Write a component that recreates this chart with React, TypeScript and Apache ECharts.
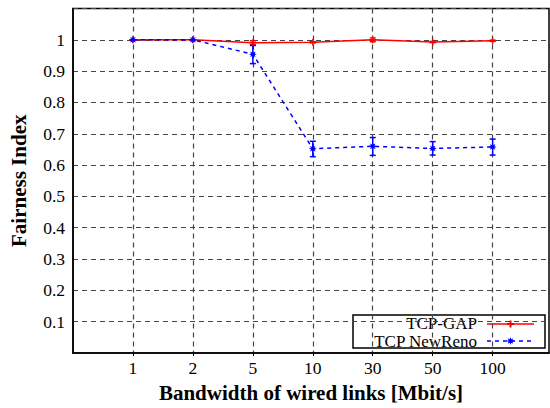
import React, { useEffect, useRef } from "react";
import * as echarts from "echarts";

const bandwidths = ["1", "2", "5", "10", "30", "50", "100"];
const gapMean = [1.0, 1.0, 0.991, 0.992, 1.0, 0.993, 0.997];
const gapLow = [1.0, 1.0, 0.985, 0.99, 0.994, 0.991, 0.995];
const gapHigh = [1.0, 1.0, 0.997, 0.994, 1.006, 0.995, 0.999];
const renoMean = [1.0, 1.0, 0.954, 0.652, 0.66, 0.653, 0.658];
const renoLow = [0.998, 0.998, 0.924, 0.627, 0.631, 0.632, 0.632];
const renoHigh = [1.0, 1.0, 0.982, 0.676, 0.688, 0.675, 0.683];
const seriesNames = ["TCP-GAP", "TCP NewReno"];

const RED = "#ff0000";
const BLUE = "#0000ff";
const FONT = "'Liberation Serif', 'DejaVu Serif', serif";

function starPoints(cx: number, cy: number, ro: number, ri: number): number[][] {
  const pts: number[][] = [];
  for (let i = 0; i < 16; i++) {
    const a = (Math.PI / 8) * i - Math.PI / 2;
    const r = i % 2 === 0 ? ro : ri;
    pts.push([cx + r * Math.cos(a), cy + r * Math.sin(a)]);
  }
  return pts;
}
const starPath =
  "path://" +
  starPoints(5, 5, 5, 2.4)
    .map((p, i) => (i === 0 ? "M" : "L") + p[0].toFixed(2) + "," + p[1].toFixed(2))
    .join(" ") +
  " Z";
const plusPath = "path://M4,0H6V4H10V6H6V10H4V6H0V4H4Z";

function errorSeries(low: number[], high: number[], color: string) {
  return {
    type: "custom",
    silent: true,
    z: 4,
    data: low.map((l, i) => [i + 1, l, high[i]]),
    renderItem: (params: any, api: any) => {
      const x = api.value(0);
      const p1 = api.coord([x, api.value(1)]);
      const p2 = api.coord([x, api.value(2)]);
      const w = 3;
      const st = { stroke: color, lineWidth: 1.5 };
      return {
        type: "group",
        children: [
          { type: "line", shape: { x1: p1[0], y1: p1[1], x2: p2[0], y2: p2[1] }, style: st },
          { type: "line", shape: { x1: p1[0] - w, y1: p1[1], x2: p1[0] + w, y2: p1[1] }, style: st },
          { type: "line", shape: { x1: p2[0] - w, y1: p2[1], x2: p2[0] + w, y2: p2[1] }, style: st },
        ],
      };
    },
  };
}

export default function App() {
  const ref = useRef<HTMLDivElement>(null);
  useEffect(() => {
    if (!ref.current) return;
    const chart = echarts.init(ref.current, null, { renderer: "svg" });
    const idx = bandwidths.map((_, i) => i + 1);
    const lx = 510.5;
    const option: any = {
      animation: false,
      backgroundColor: "#fff",
      grid: {
        left: 70,
        top: 8.5,
        right: 1,
        bottom: 54,
        show: true,
        borderColor: "#000",
        borderWidth: 1.5,
        backgroundColor: "transparent",
      },
      xAxis: {
        type: "value",
        min: 0,
        max: 7.94,
        interval: 1,
        name: "Bandwidth of wired links [Mbit/s]",
        nameLocation: "middle",
        nameGap: 29,
        nameTextStyle: { fontFamily: FONT, fontWeight: "bold", fontSize: 21, color: "#000" },
        axisLine: { show: true, lineStyle: { color: "#000", width: 1.5 } },
        axisTick: { show: true, inside: false, length: 3, customValues: idx, lineStyle: { color: "#000" } },
        axisLabel: {
          customValues: idx,
          margin: 6,
          fontFamily: FONT,
          fontSize: 17.5,
          color: "#000",
          formatter: (v: number) => {
            const i = Math.round(v);
            return Math.abs(v - i) < 1e-6 && i >= 1 && i <= bandwidths.length ? bandwidths[i - 1] : "";
          },
        },
        splitLine: {
          show: true,
          lineStyle: { color: "#444", type: [5, 4], width: 1.2 },
        },
      },
      yAxis: {
        type: "value",
        min: 0,
        max: 1.1,
        interval: 0.1,
        name: "Fairness Index",
        nameLocation: "middle",
        nameGap: 44,
        nameTextStyle: { fontFamily: FONT, fontWeight: "bold", fontSize: 21, color: "#000" },
        axisLine: { show: true, lineStyle: { color: "#000", width: 1.5 } },
        axisTick: { show: false },
        axisLabel: {
          margin: 8,
          fontFamily: FONT,
          fontSize: 17.5,
          color: "#000",
          formatter: (v: number) => (v < 0.05 || v > 1.05 ? "" : String(+v.toFixed(1))),
        },
        splitLine: {
          show: true,
          lineStyle: { color: "#444", type: [5, 4], width: 1.2 },
        },
      },
      series: [
        errorSeries(gapLow, gapHigh, RED),
        errorSeries(renoLow, renoHigh, BLUE),
        {
          name: seriesNames[0],
          type: "line",
          z: 5,
          data: gapMean.map((v, i) => [i + 1, v]),
          lineStyle: { color: RED, width: 1.5 },
          itemStyle: { color: RED },
          symbol: plusPath,
          symbolSize: 7,
        },
        {
          name: seriesNames[1],
          type: "line",
          z: 6,
          data: renoMean.map((v, i) => [i + 1, v]),
          lineStyle: { color: BLUE, width: 1.5, type: [4, 4] },
          itemStyle: { color: BLUE },
          symbol: starPath,
          symbolSize: 8,
        },
      ],
      graphic: [
        {
          type: "group",
          z: 100,
          children: [
            {
              type: "rect",
              shape: { x: 353, y: 315, width: 192, height: 33 },
              style: { fill: "#fff", stroke: "#000", lineWidth: 1.5 },
            },
            {
              type: "text",
              x: 477,
              y: 323.5,
              style: { text: seriesNames[0], font: `17px ${FONT}`, lineHeight: 15, fill: "#000", align: "right", verticalAlign: "middle" },
            },
            {
              type: "text",
              x: 477,
              y: 341,
              style: { text: seriesNames[1], font: `17px ${FONT}`, lineHeight: 15, fill: "#000", align: "right", verticalAlign: "middle" },
            },
            { type: "line", shape: { x1: 487, y1: 324, x2: 534, y2: 324 }, style: { stroke: RED, lineWidth: 1.5 } },
            {
              type: "line",
              shape: { x1: 487, y1: 341, x2: 534, y2: 341 },
              style: { stroke: BLUE, lineWidth: 1.5, lineDash: [4, 4] },
            },
            {
              type: "polygon",
              shape: { points: [[lx - 1, 320.5], [lx + 1, 320.5], [lx + 1, 323], [lx + 3.5, 323], [lx + 3.5, 325], [lx + 1, 325], [lx + 1, 327.5], [lx - 1, 327.5], [lx - 1, 325], [lx - 3.5, 325], [lx - 3.5, 323], [lx - 1, 323]] },
              style: { fill: RED },
            },
            {
              type: "polygon",
              shape: { points: starPoints(lx, 341, 4, 2) },
              style: { fill: BLUE },
            },
          ],
        },
      ],
    };
    chart.setOption(option);
    return () => chart.dispose();
  }, []);
  return <div ref={ref} style={{ width: 550, height: 408, position: "absolute", left: 0, top: 0 }} />;
}
